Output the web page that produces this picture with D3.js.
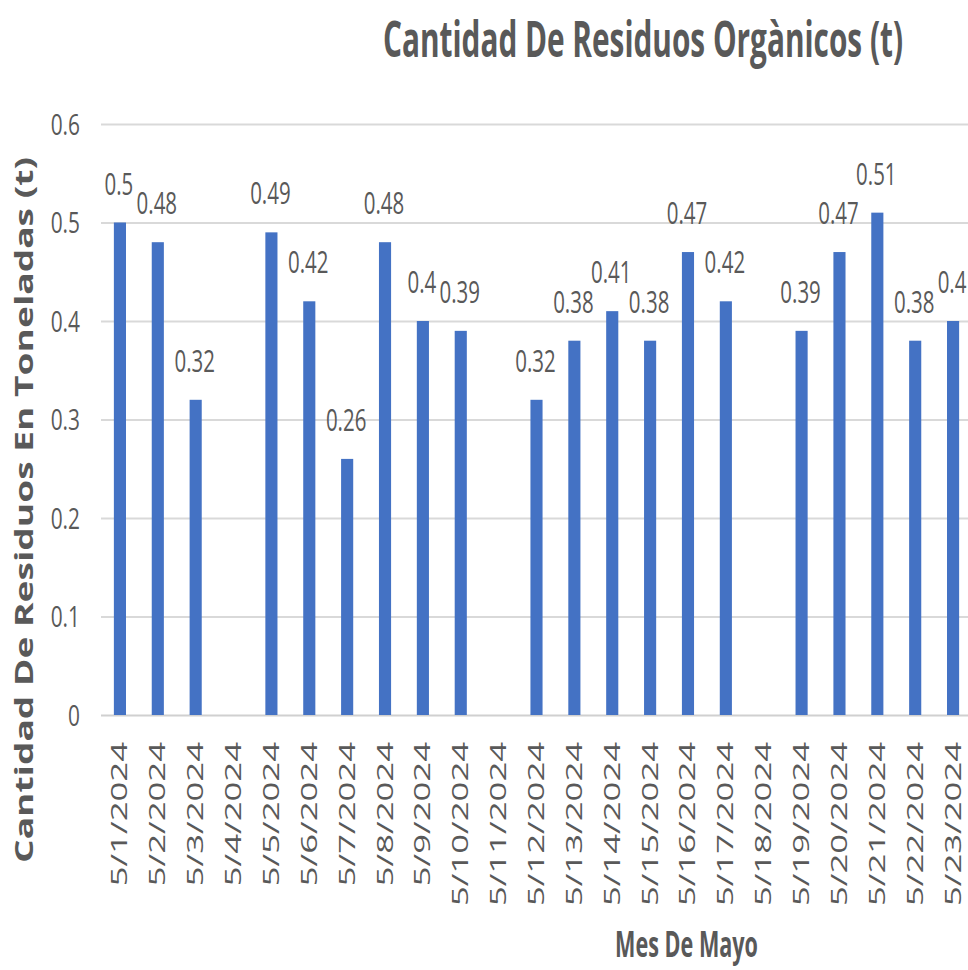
<!DOCTYPE html>
<html>
<head>
<meta charset="utf-8">
<script src="https://cdn.jsdelivr.net/npm/d3@7"></script>
<style>
  html, body { margin: 0; padding: 0; background: #ffffff; }
  svg { display: block; }
  text { font-family: "Open Sans", "Noto Sans", sans-serif; fill: #595959; }
</style>
</head>
<body>
<div id="chart"></div>
<script>
// ---- Data ----
const categories = ["5/1/2024","5/2/2024","5/3/2024","5/4/2024","5/5/2024","5/6/2024","5/7/2024","5/8/2024","5/9/2024","5/10/2024","5/11/2024","5/12/2024","5/13/2024","5/14/2024","5/15/2024","5/16/2024","5/17/2024","5/18/2024","5/19/2024","5/20/2024","5/21/2024","5/22/2024","5/23/2024"];
const values = [0.5, 0.48, 0.32, null, 0.49, 0.42, 0.26, 0.48, 0.4, 0.39, null, 0.32, 0.38, 0.41, 0.38, 0.47, 0.42, null, 0.39, 0.47, 0.51, 0.38, 0.4];
const yTicks = [0, 0.1, 0.2, 0.3, 0.4, 0.5, 0.6];
const chartTitle = "Cantidad De Residuos Orgànicos (t)";
const xTitle = "Mes De Mayo";
const yTitle = "Cantidad De Residuos En Toneladas (t)";

// ---- Layout ----
const W = 968, H = 970;
const plot = { left: 101, right: 972, top: 124, bottom: 715 };

const svg = d3.select("#chart").append("svg")
  .attr("width", W).attr("height", H);
svg.append("rect").attr("width", W).attr("height", H).attr("fill", "#ffffff");

const x = d3.scaleBand().domain(categories).range([plot.left, plot.right])
  .paddingInner(0.68).paddingOuter(0.34);
const y = d3.scaleLinear().domain([0, 0.6]).range([plot.bottom, plot.top]);

// helper: condense/stretch text horizontally (along its own axis)
function fitScale(sel, factor) {
  sel.each(function() {
    const n = this.getComputedTextLength();
    if (n > 0) {
      d3.select(this).attr("textLength", n * factor).attr("lengthAdjust", "spacingAndGlyphs");
    }
  });
}
function fitLength(sel, len) {
  sel.attr("textLength", len).attr("lengthAdjust", "spacingAndGlyphs");
}

// ---- Grid lines + y tick labels via axis ----
const yAxis = d3.axisLeft(y).tickValues(yTicks)
  .tickSize(-(W - plot.left)).tickPadding(21)
  .tickFormat(d => d === 0 ? "0" : d3.format(".1f")(d));
const gy = svg.append("g").attr("transform", `translate(${plot.left},0)`).call(yAxis);
gy.select(".domain").remove();
gy.selectAll(".tick line")
  .attr("stroke", d => d === 0 ? "#d0d0d0" : "#d9d9d9")
  .attr("stroke-width", 2.2);
gy.selectAll(".tick text")
  .attr("font-size", 29).attr("fill", "#595959")
  .attr("dy", null).attr("y", 10)
  .style("font-family", '"Open Sans", sans-serif');
fitScale(gy.selectAll(".tick text"), 0.72);

// ---- Bars ----
const data = categories.map((c, i) => ({ c, v: values[i] })).filter(d => d.v != null);
svg.append("g").selectAll("rect").data(data).join("rect")
  .attr("x", d => x(d.c))
  .attr("width", x.bandwidth())
  .attr("y", d => y(d.v))
  .attr("height", d => y(0) - y(d.v))
  .attr("fill", "#4472C4");

// ---- Data labels ----
const labels = svg.append("g").selectAll("text").data(data).join("text")
  .attr("x", d => x(d.c) + x.bandwidth() / 2 - 1)
  .attr("y", d => y(d.v) - 28)
  .attr("text-anchor", "middle")
  .attr("font-size", 31)
  .text(d => String(d.v));
fitScale(labels, 0.66);

// ---- X tick labels (rotated) ----
const xAxis = d3.axisBottom(x).tickSize(0).tickPadding(0);
const gx = svg.append("g").attr("transform", `translate(0,${plot.bottom})`).call(xAxis);
gx.select(".domain").remove();
gx.selectAll(".tick text")
  .attr("font-size", 21).attr("fill", "#595959")
  .style("font-family", '"Open Sans", sans-serif')
  .attr("text-anchor", "end")
  .attr("dy", null)
  .attr("y", 0)
  .attr("transform", "translate(7.5,27) rotate(-90)");
fitScale(gx.selectAll(".tick text"), 1.65);

// ---- Titles ----
const t = svg.append("text")
  .attr("x", 383).attr("y", 57)
  .attr("font-size", 50).attr("font-weight", "bold")
  .attr("fill", "#595959")
  .text(chartTitle);
fitLength(t, 520);

const xt = svg.append("text")
  .attr("x", 615).attr("y", 957)
  .attr("font-size", 35).attr("font-weight", "bold")
  .text(xTitle);
fitLength(xt, 143);

const yt = svg.append("text")
  .attr("transform", "translate(33,510) rotate(-90)")
  .attr("text-anchor", "middle")
  .attr("font-size", 25).attr("font-weight", "bold")
  .text(yTitle);
fitLength(yt, 706);
</script>
</body>
</html>
